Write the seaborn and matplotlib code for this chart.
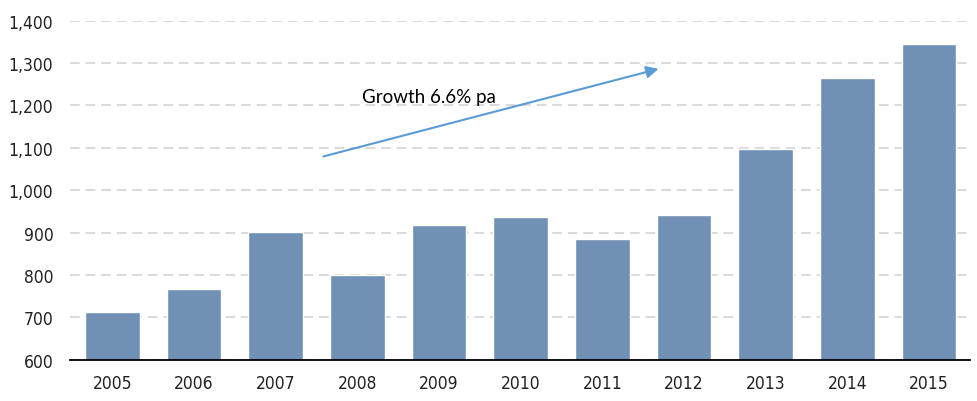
import pandas as pd
import matplotlib.pyplot as plt
import seaborn as sns

YEARS = ['2005', '2006', '2007', '2008', '2009', '2010', '2011', '2012', '2013', '2014', '2015']
VALUES = [712, 768, 902, 800, 918, 937, 885, 941, 1097, 1264, 1345]
Y_TICKS = [600, 700, 800, 900, 1000, 1100, 1200, 1300, 1400]
ANNOTATION = 'Growth 6.6% pa'


def plot_bars(df):
    sns.set_style('white')
    plt.rcParams['font.family'] = ['DejaVu Sans']
    plt.rcParams['font.stretch'] = 'condensed'
    fig = plt.figure(figsize=(9.78, 4.02), dpi=100)
    ax = fig.add_axes([0.0716, 0.1027, 0.92, 0.8433])
    sns.barplot(data=df, x='year', y='value', color='#7190b5', saturation=1,
                width=0.67, ax=ax, zorder=3)
    ax.set_ylim(600, 1400)
    ax.set_xlim(-0.52, 10.5)
    ax.set_yticks(Y_TICKS)
    ax.set_yticklabels([f'{v:,}' for v in Y_TICKS])
    ax.yaxis.grid(True, linestyle=(0, (5, 3)), color='#d9d9d9', linewidth=1.4, zorder=0)
    ax.set_axisbelow(True)
    for s in ['top', 'right', 'left']:
        ax.spines[s].set_visible(False)
    ax.spines['bottom'].set_color('black')
    ax.spines['bottom'].set_linewidth(1.3)
    ax.spines['bottom'].set_zorder(5)
    ax.tick_params(axis='both', length=0, labelsize=12.5, colors='#222222')
    ax.tick_params(axis='x', pad=10)
    ax.tick_params(axis='y', pad=12)
    ax.set_xlabel('')
    ax.set_ylabel('')
    ax.annotate('', xy=(6.72, 1288), xytext=(2.55, 1078),
                arrowprops=dict(arrowstyle='-|>', color='#5b9bd5', lw=1.5,
                                mutation_scale=18))
    ax.text(3.87, 1222, ANNOTATION, ha='center', va='center', fontsize=13.5,
            family=['Lato', 'DejaVu Sans'], stretch='normal', color='black')
    fig.savefig('out.png', dpi=100)


if __name__ == '__main__':
    df = pd.DataFrame({'year': YEARS, 'value': VALUES})
    plot_bars(df)
